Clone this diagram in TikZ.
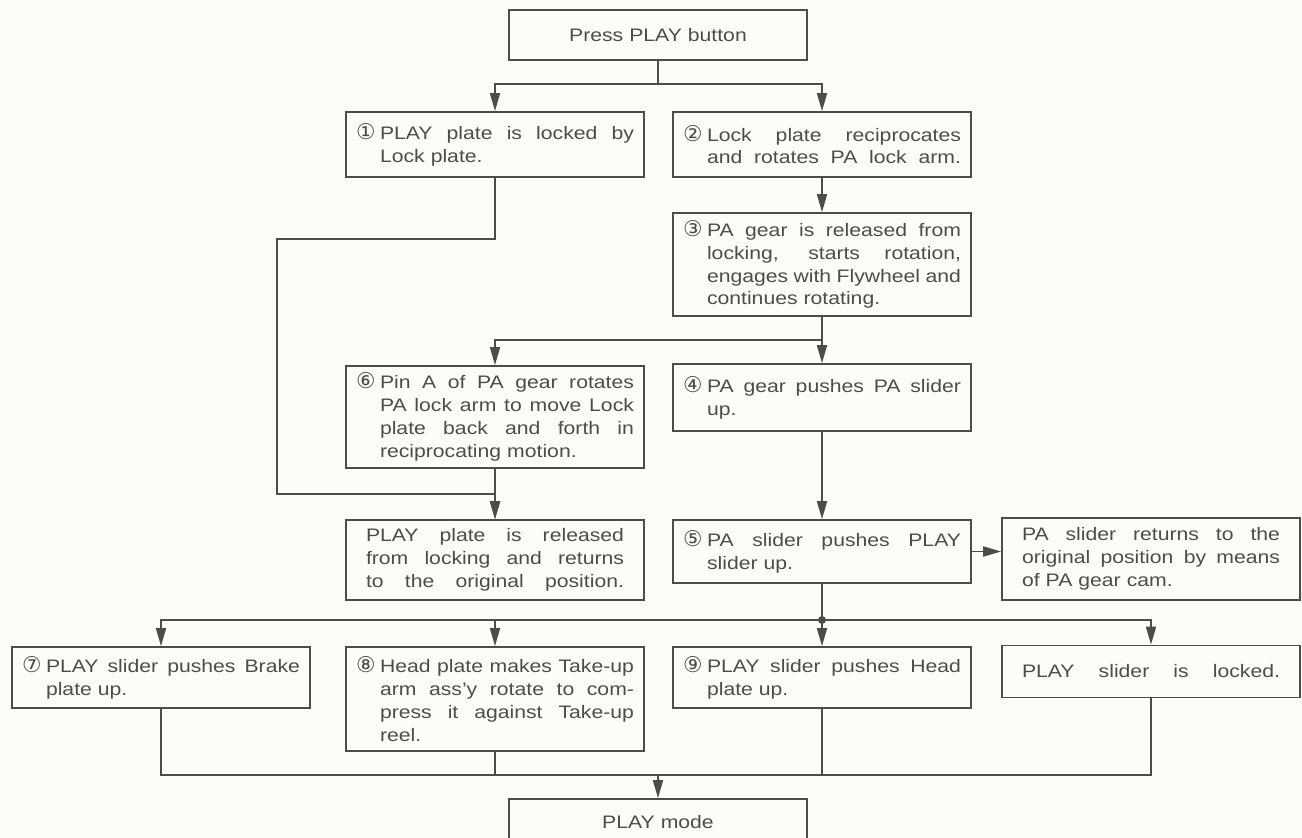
\documentclass[tikz,border=0pt]{standalone}
\usepackage{fontspec}
\setmainfont[FakeStretch=1.17]{Liberation Sans}
\newfontfamily\circfont[Scale=1.2]{DejaVu Sans}
\usetikzlibrary{arrows.meta}
\setlength{\parindent}{0pt}

\definecolor{inkgray}{HTML}{4C4C49}
\definecolor{paper}{HTML}{FDFDF7}

% circled step number and justified rows
\newlength{\numw}\setlength{\numw}{0.48cm}
\newcommand{\cnum}[1]{{\circfont #1}}
\newcommand{\spread}[2]{{\spaceskip=0.22em plus 1fil\makebox[#1][s]{#2}}}
\newcommand{\jrow}[1]{\spread{5.16cm}{#1}}
\newcommand{\nfirst}[2]{\makebox[\numw][l]{\cnum{#1}}\spread{5.08cm}{#2}}
\newcommand{\nrow}[1]{\hspace*{\numw}\spread{5.08cm}{#1}}
\newcommand{\nlast}[1]{\hspace*{\numw}#1}

\tikzset{
  box/.style={draw=inkgray, line width=1pt, minimum width=5.96cm, text width=5.56cm,
    inner xsep=0.2cm, inner ysep=0pt, align=left, text=inkgray,
    font=\fontsize{10.3}{13}\selectfont},
  plainbox/.style={box, text width=5.16cm, inner xsep=0.4cm},
  centerbox/.style={box, align=center},
  wire/.style={draw=inkgray, line width=1pt},
  flow/.style={wire, -{Triangle[length=0.36cm,width=0.2cm]}},
}

\begin{document}
\begin{tikzpicture}[x=0.02cm, y=-0.02cm]
  \fill[paper] (0,0) rectangle (1302,838);
  \useasboundingbox (0,0) rectangle (1302,838);

  \node[centerbox, minimum height=1.0cm] (press) at (658, 35) {Press PLAY button};

  \node[box, minimum height=1.3cm] (b1) at (495, 144.5)
    {\nfirst{①}{PLAY plate is locked by}\\ \nlast{Lock plate.}};
  \node[box, minimum height=1.3cm] (b2) at (822, 144.5)
    {\nfirst{②}{Lock plate reciprocates}\\ \nrow{and rotates PA lock arm.}};
  \node[box, minimum height=2.06cm] (b3) at (822, 264.5)
    {\nfirst{③}{PA gear is released from}\\ \nrow{locking, starts rotation,}\\
     \nrow{engages with Flywheel and}\\ \nlast{continues rotating.}};
  \node[box, minimum height=2.04cm] (b6) at (495, 417)
    {\nfirst{⑥}{Pin A of PA gear rotates}\\ \nrow{PA lock arm to move Lock}\\
     \nrow{plate back and forth in}\\ \nlast{reciprocating motion.}};
  \node[box, minimum height=1.34cm] (b4) at (822, 397.5)
    {\nfirst{④}{PA gear pushes PA slider}\\ \nlast{up.}};
  \node[plainbox, minimum height=1.6cm] (rel) at (495, 560)
    {\jrow{PLAY plate is released}\\ \jrow{from locking and returns}\\ \jrow{to the original position.}};
  \node[box, minimum height=1.26cm] (b5) at (822, 551.5)
    {\nfirst{⑤}{PA slider pushes PLAY}\\ \nlast{slider up.}};
  \node[plainbox, minimum height=1.64cm] (side) at (1151, 559)
    {\jrow{PA slider returns to the}\\ \jrow{original position by means}\\ of PA gear cam.};

  \node[box, minimum height=1.22cm] (b7) at (161, 677.5)
    {\nfirst{⑦}{PLAY slider pushes Brake}\\ \nlast{plate up.}};
  \node[box, minimum height=2.08cm] (b8) at (495, 699)
    {\nfirst{⑧}{Head plate makes Take-up}\\ \nrow{arm ass’y rotate to com-}\\
     \nrow{press it against Take-up}\\ \nlast{reel.}};
  \node[box, minimum height=1.22cm] (b9) at (822, 677.5)
    {\nfirst{⑨}{PLAY slider pushes Head}\\ \nlast{plate up.}};
  \node[plainbox, minimum height=1.04cm] (lock) at (1151, 671.5)
    {\jrow{PLAY slider is locked.}};

  \node[centerbox, minimum height=0.92cm] (mode) at (658, 822) {PLAY mode};

  % junctions
  \coordinate (j1) at (658, 84);
  \coordinate (j2) at (822, 340);
  \coordinate (j3) at (822, 620);
  \coordinate (j4) at (658, 775);
  \coordinate (k1) at (277, 239);
  \coordinate (k2) at (277, 494);

  \draw[wire] (press) -- (j1);
  \draw[flow] (j1) -| (b1);
  \draw[flow] (j1) -| (b2);
  \draw[flow] (b2) -- (b3);

  \draw[wire] (b3) -- (j2);
  \draw[flow] (j2) -| (b6);
  \draw[flow] (j2) -- (b4);

  \draw[flow] (b1) |- (k1) -- (k2) -| (rel);
  \draw[flow] (b6) -- (rel);

  \draw[flow] (b4) -- (b5);
  \draw[flow] (b5.east) -- (b5.east -| side.west);

  \draw[wire] (b5) -- (j3);
  \fill[inkgray] (j3) circle[radius=0.08cm];
  \draw[flow] (j3) -- (b9);
  \foreach \n in {b7,b8,lock}
    \draw[flow] (j3) -| (\n);

  \foreach \n in {b7,b8,b9,lock}
    \draw[wire] (\n) |- (j4);
  \draw[flow] (j4) -- (mode);
\end{tikzpicture}
\end{document}
